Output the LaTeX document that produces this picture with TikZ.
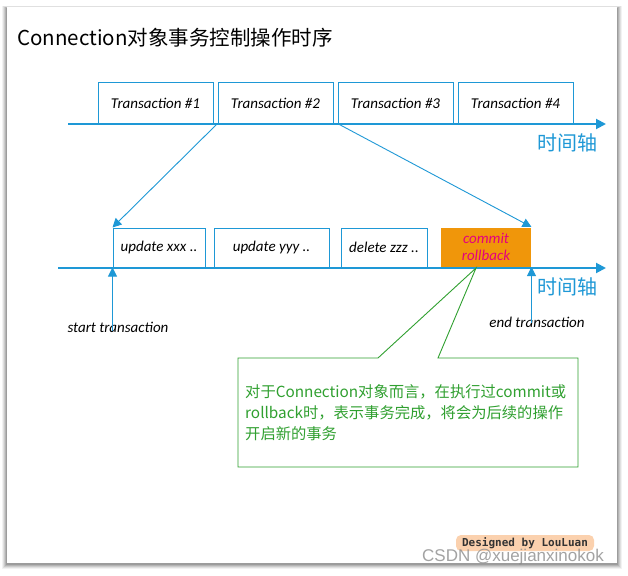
\documentclass[tikz,border=0pt]{standalone}
\usepackage{fontspec}
\setmainfont{Noto Sans CJK SC}
\newfontfamily\itfont{Carlito}
\newfontfamily\wmmono{DejaVu Sans Mono}
\newfontfamily\wmsans{Liberation Sans}
\usetikzlibrary{arrows.meta}
\definecolor{axblue}{RGB}{30,152,214}
\definecolor{crorange}{RGB}{240,150,10}
\definecolor{crpink}{RGB}{228,0,127}
\definecolor{cgreen}{RGB}{48,160,48}
\definecolor{wmorange}{RGB}{250,190,140}
\tikzset{
  tbox/.style={draw=axblue, line width=1pt, minimum height=40pt, inner sep=0pt,
    font=\itfont\itshape\fontsize{15}{17}\selectfont},
  obox/.style={tbox, minimum height=39pt},
  axis/.style={draw=axblue, line width=2pt, -{Triangle[length=10pt,width=10pt]}},
  conn/.style={draw=axblue, line width=0.9pt, -{Triangle[length=9pt,width=9pt]}},
  axlabel/.style={text=axblue, font=\fontsize{20}{22}\selectfont, inner sep=0pt},
  itlabel/.style={font=\itfont\itshape\fontsize{15}{17}\selectfont, inner sep=0pt},
}
\begin{document}
\begin{tikzpicture}[x=1pt,y=-1pt]
\useasboundingbox (0,0) rectangle (628,575);
\fill[white] (0,0) rectangle (628,575);
% frame shadow
\foreach \d/\o in {5/0.05,4/0.07,3/0.09,2/0.11,1/0.13}
  \fill[black,opacity=\o] (7-\d,8-\d*0.4) rectangle (617+\d,564+\d);
\fill[white] (7,7) rectangle (617,563);

% title
\node[anchor=west, inner sep=0pt, font=\fontsize{20.5}{23}\selectfont] (title) at (17,38) {Connection对象事务控制操作时序};

% top axis
\coordinate (a1s) at (68,124);
\coordinate (a1e) at (606,124);
\draw[axis] (a1s) -- (a1e);
\node[tbox, minimum width=115pt] (t1) at (155.5,103) {Transaction \#1};
\node[tbox, minimum width=115pt] (t2) at (275.5,103) {Transaction \#2};
\node[tbox, minimum width=115pt] (t3) at (395.5,103) {Transaction \#3};
\node[tbox, minimum width=115pt] (t4) at (515.5,103) {Transaction \#4};
\node[axlabel] (lab1) at (567,143) {时间轴};

% bottom axis
\coordinate (a2s) at (58,268);
\coordinate (a2e) at (606,268);
\draw[axis] (a2s) -- (a2e);
\node[obox, minimum width=92pt] (u1) at (159,247.5) {update xxx ..};
\node[obox, minimum width=115pt] (u2) at (271.5,247.5) {update yyy ..};
\node[obox, minimum width=86pt] (u3) at (384,247.5) {delete zzz ..};
\node[obox, draw=none, fill=crorange, minimum width=90pt, text=crpink, align=center,
  font=\itfont\itshape\fontsize{15}{17}\selectfont] (cr) at (486,247) {commit\\rollback};
\node[axlabel] (lab2) at (567,287) {时间轴};

% connectors from Transaction #2
\draw[conn] (t2.south west) -- (u1.north west);
\draw[conn] (t3.south west) -- (cr.north east);

% start / end transaction
\node[itlabel] (st) at (118,327) {start transaction};
\node[itlabel] (et) at (537,322) {end transaction};
\draw[conn] (u1.south west |- st.north) ++(0,-9pt) -- (u1.south west);
\draw[conn] (cr.south east |- et.north) ++(0,-6pt) -- (cr.south east);

% callout
\coordinate (tip) at (476,268);
\draw[cgreen, line width=0.9pt, fill=white]
  (238,358) -- (378,358) -- (tip) -- (438,358) -- (578,358) -- (578,467) -- (238,467) -- cycle;
\node[anchor=west, align=left, text=cgreen, inner sep=0pt,
  font=\fontsize{15.3}{21}\selectfont] (ct) at (245,413)
  {对于Connection对象而言，在执行过commit或\\rollback时，表示事务完成，将会为后续的操作\\开启新的事务};

% watermark
\fill[wmorange, opacity=0.7, rounded corners=5pt] (456,535) rectangle (594,551);
\node[inner sep=0pt, font=\wmmono\bfseries\fontsize{11}{12}\selectfont, text=black!80] (wm1) at (525,543) {Designed by LouLuan};
\node[inner sep=0pt, font=\wmsans\fontsize{17}{18}\selectfont, text=black!45, opacity=0.8] (wm2) at (513,557) {CSDN @xuejianxinokok};
\end{tikzpicture}
\end{document}
